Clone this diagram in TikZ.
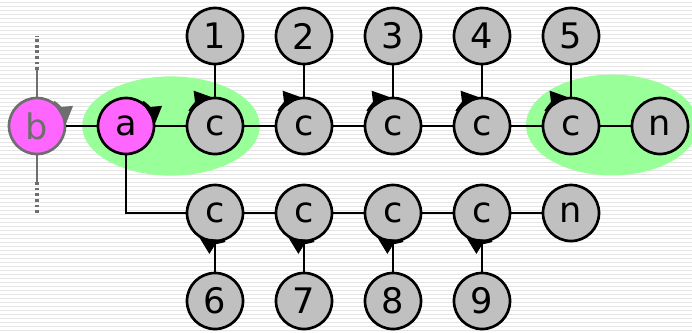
\documentclass[tikz,border=0pt]{standalone}
\usepackage{fontspec}
\setmainfont{DejaVu Sans}
\usepackage{xcolor}
\usetikzlibrary{shapes,arrows.meta,positioning}
\definecolor{gris}{HTML}{C0C0C0}
\definecolor{grisosc}{HTML}{6E6E6E}
\definecolor{magenta1}{HTML}{FF66FF}
\definecolor{verde}{HTML}{99FF99}

\begin{document}
\begin{tikzpicture}[x=0.025cm, y=-0.025cm]
  % Fondo rayado
  \useasboundingbox (0,0) rectangle (692,332);
  \fill[white] (0,0) rectangle (692,332);
  \foreach \y in {2,6,...,330}
    \draw[black!10, line width=0.6pt] (0,\y) -- (692,\y);

  \tikzstyle{nodo}=[circle, draw, line width=1.9pt, minimum size=1.4cm, inner sep=0pt, font=\fontsize{25}{30}\selectfont, fill=gris]
  \tikzstyle{activo}=[fill=magenta1]
  \tikzstyle{enlace}=[line width=1.9pt]
  \tikzstyle{giro}=[line width=1.9pt, -{Triangle[length=0.42cm, width=0.4cm]}]

  % Zonas verdes
  \fill[verde] (171,126) ellipse [x radius=2.22cm, y radius=1.24cm];
  \fill[verde] (612,125) ellipse [x radius=2.15cm, y radius=1.26cm];

  % Fila central
  \node[nodo, activo, draw=grisosc, text=grisosc] (b) at (37,126) {b};
  \node[nodo, activo] (a) at (126,126) {a};
  \node[nodo] (c1) at (215,126) {c};
  \node[nodo] (c2) at (304,126) {c};
  \node[nodo] (c3) at (393,126) {c};
  \node[nodo] (c4) at (482,126) {c};
  \node[nodo] (c5) at (571,126) {c};
  \node[nodo] (fin1) at (660,126) {n};

  % Fila de arriba
  \node[nodo] (t1) at (215,36) {1};
  \node[nodo] (t2) at (304,36) {2};
  \node[nodo] (t3) at (393,36) {3};
  \node[nodo] (t4) at (482,36) {4};
  \node[nodo] (t5) at (571,36) {5};

  % Fila de abajo
  \node[nodo] (cb1) at (215,213) {c};
  \node[nodo] (cb2) at (304,213) {c};
  \node[nodo] (cb3) at (393,213) {c};
  \node[nodo] (cb4) at (482,213) {c};
  \node[nodo] (fin2) at (571,213) {n};

  \node[nodo] (u6) at (215,301) {6};
  \node[nodo] (u7) at (304,301) {7};
  \node[nodo] (u8) at (393,301) {8};
  \node[nodo] (u9) at (482,301) {9};

  % Enlaces
  \draw[enlace] (b) -- (a);
  \draw[enlace] (a) -- (c1);
  \draw[enlace] (c1) -- (c2);
  \draw[enlace] (c2) -- (c3);
  \draw[enlace] (c3) -- (c4);
  \draw[enlace] (c4) -- (c5);
  \draw[enlace] (c5) -- (fin1);
  \draw[enlace] (a) |- (cb1);
  \draw[enlace] (cb1) -- (cb2);
  \draw[enlace] (cb2) -- (cb3);
  \draw[enlace] (cb3) -- (cb4);
  \draw[enlace] (cb4) -- (fin2);

  \draw[enlace] (t1) -- (c1);
  \draw[enlace] (t2) -- (c2);
  \draw[enlace] (t3) -- (c3);
  \draw[enlace] (t4) -- (c4);
  \draw[enlace] (t5) -- (c5);
  \draw[enlace] (u6) -- (cb1);
  \draw[enlace] (u7) -- (cb2);
  \draw[enlace] (u8) -- (cb3);
  \draw[enlace] (u9) -- (cb4);

  % Enlaces de b (gris)
  \coordinate (barr1) at (37,70);
  \coordinate (barr2) at (37,36);
  \coordinate (bab1) at (37,182);
  \coordinate (bab2) at (37,214);
  \draw[enlace, grisosc] (b) -- (barr1);
  \draw[line width=2.2pt, grisosc, dash pattern=on 2pt off 2pt] (barr1) -- (barr2);
  \draw[enlace, grisosc] (b) -- (bab1);
  \draw[line width=2.2pt, grisosc, dash pattern=on 2pt off 2pt] (bab1) -- (bab2);

  % Flechas de giro
  \draw[giro, grisosc] (b.55) arc[start angle=55, end angle=5, radius=0.73cm];
  \draw[giro] (a.55) arc[start angle=55, end angle=5, radius=0.73cm];
  \foreach \n in {c1,c2,c3,c4,c5}
    \draw[giro] (\n.150) arc[start angle=150, end angle=97, radius=0.73cm];
  \foreach \n in {cb1,cb2,cb3,cb4}
    \draw[giro] (\n.-70) arc[start angle=-70, end angle=-122, radius=0.73cm];
\end{tikzpicture}
\end{document}
